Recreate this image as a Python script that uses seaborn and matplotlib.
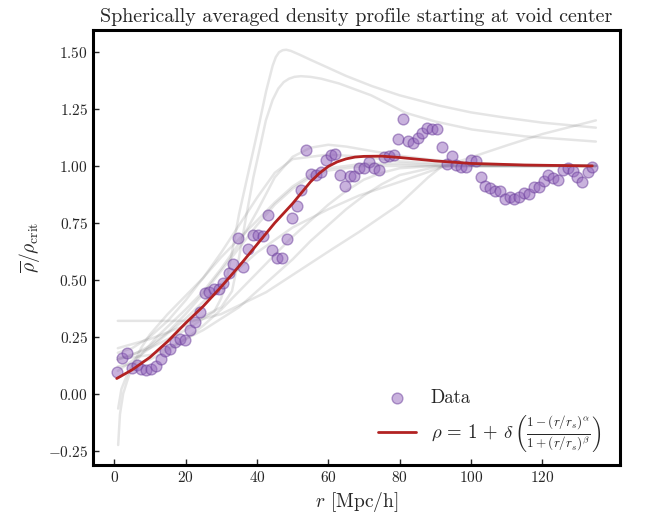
import matplotlib
matplotlib.use("Agg")
import matplotlib.pyplot as plt
import seaborn as sns
import numpy as np
import pandas as pd

# ---------------- data ----------------
r_data = [0.8, 2.2, 3.5, 4.9, 6.3, 7.6, 8.9, 10.3, 11.6, 13.0, 14.3, 15.7, 17.1, 18.4,
          19.7, 21.2, 22.5, 23.9, 25.3, 26.5, 27.9, 29.3, 30.6, 32.1, 33.4, 34.8, 36.1,
          37.6, 38.8, 40.2, 41.6, 43.0, 44.3, 45.6, 47.0, 48.3, 49.7, 51.1, 52.3, 53.8,
          55.2, 56.5, 57.9, 59.3, 60.7, 62.0, 63.3, 64.7, 66.0, 67.3, 68.6, 70.0, 71.4,
          72.8, 74.1, 75.5, 76.9, 78.3, 79.6, 81.0, 82.3, 83.7, 85.1, 86.4, 87.7, 89.2,
          90.6, 91.9, 93.2, 94.6, 95.9, 97.2, 98.5, 99.9, 101.3, 102.7, 103.9, 105.3,
          106.6, 108.0, 109.4, 110.8, 112.1, 113.5, 114.9, 116.3, 117.6, 119.0, 120.4,
          121.7, 123.0, 124.5, 125.7, 127.1, 128.5, 129.8, 131.2, 132.7, 134.0]
rho_data = [0.096, 0.158, 0.179, 0.115, 0.125, 0.107, 0.103, 0.109, 0.120, 0.151, 0.186,
            0.198, 0.227, 0.241, 0.238, 0.278, 0.315, 0.358, 0.443, 0.447, 0.460, 0.460,
            0.487, 0.529, 0.570, 0.682, 0.555, 0.634, 0.697, 0.697, 0.694, 0.786, 0.632,
            0.596, 0.596, 0.679, 0.771, 0.822, 0.896, 1.072, 0.965, 0.962, 0.975, 1.025,
            1.047, 1.054, 0.961, 0.910, 0.955, 0.954, 0.989, 0.990, 1.018, 0.990, 0.980,
            1.041, 1.042, 1.050, 1.117, 1.207, 1.111, 1.101, 1.121, 1.146, 1.166, 1.160,
            1.160, 1.082, 1.009, 1.044, 1.003, 0.997, 0.996, 1.025, 1.022, 0.952, 0.910,
            0.901, 0.891, 0.888, 0.856, 0.864, 0.853, 0.862, 0.881, 0.879, 0.907, 0.907,
            0.933, 0.962, 0.948, 0.940, 0.982, 0.993, 0.976, 0.950, 0.930, 0.974, 0.996]

# best-fit curve, values
r_fit = [0.7, 5, 10, 15, 20, 25, 30, 35, 40, 45, 50, 55, 57.5, 60, 62.5, 65, 67.5, 70,
         75, 80, 90, 100, 115, 134]
rho_fit = [0.067, 0.105, 0.16, 0.23, 0.31, 0.385, 0.47, 0.56, 0.655, 0.75, 0.835, 0.93,
           0.968, 0.998, 1.018, 1.031, 1.039, 1.042, 1.043, 1.037, 1.022, 1.011, 1.004, 1.0]

# individual gray profiles
g1_r = [1, 10, 20, 28, 30, 31.5, 33, 35, 37, 39, 40.7, 42.6, 44.4, 45.3, 46.2, 47.2,
        48.2, 49.5, 52, 55, 58.4, 65, 72.3, 80, 91, 100, 109.6, 120, 135]
g1_y = [0.15, 0.2, 0.28, 0.36, 0.42, 0.5, 0.62, 0.79, 0.93, 1.07, 1.19, 1.33, 1.44,
        1.478, 1.499, 1.508, 1.51, 1.505, 1.488, 1.466, 1.442, 1.395, 1.35, 1.31, 1.265,
        1.235, 1.212, 1.19, 1.168]
g2_r = [1, 10, 20, 30, 33, 35, 37, 39, 40.7, 42.5, 44.4, 46, 47.5, 49, 50.5, 52.3, 55,
        58, 63, 72, 81.7, 90, 100.3, 115, 135]
g2_y = [0.2, 0.24, 0.3, 0.38, 0.45, 0.6, 0.78, 0.95, 1.07, 1.2, 1.29, 1.34, 1.368,
        1.383, 1.391, 1.394, 1.391, 1.383, 1.362, 1.31, 1.233, 1.195, 1.16, 1.13, 1.107]
g3_r = [1, 10, 20, 30, 40, 50, 60, 68.6, 80, 92.8, 110, 120, 135]
g3_y = [0.1, 0.2, 0.33, 0.48, 0.62, 0.73, 0.81, 0.87, 0.93, 1.0, 1.09, 1.14, 1.2]
g4_r = [1.1, 1.6, 2.5, 3.5, 5, 7.5, 10, 15, 20, 25, 30, 35, 40, 45, 50, 55, 60, 70, 80,
        100, 135]
g4_y = [-0.225, -0.09, 0.0, 0.05, 0.12, 0.2, 0.26, 0.35, 0.43, 0.51, 0.6, 0.68, 0.76,
        0.84, 0.91, 0.96, 0.99, 1.01, 1.01, 1.0, 1.0]
g5_r = [1.1, 2, 3.5, 5, 8, 12, 16, 20, 25, 30, 35, 40, 45, 50, 55, 60, 65, 72, 80, 90,
        100, 115, 135]
g5_y = [-0.065, 0.02, 0.08, 0.12, 0.18, 0.25, 0.31, 0.37, 0.45, 0.55, 0.66, 0.8, 0.95,
        1.04, 1.08, 1.093, 1.085, 1.066, 1.045, 1.025, 1.012, 1.004, 1.0]
g6_r = [1, 5, 10, 15, 20, 25, 30, 35, 40, 45, 50, 55, 60, 70, 80, 100, 135]
g6_y = [0.15, 0.17, 0.21, 0.27, 0.35, 0.44, 0.54, 0.64, 0.74, 0.83, 0.9, 0.95, 0.98,
        1.0, 1.0, 1.0, 1.0]
g7_r = [1, 5, 10, 15, 20, 25, 30, 35, 40, 45, 50, 55, 60, 65, 70, 75, 80, 90, 100, 135]
g7_y = [0.12, 0.13, 0.15, 0.19, 0.24, 0.3, 0.37, 0.45, 0.53, 0.61, 0.69, 0.76, 0.83,
        0.89, 0.94, 0.97, 0.99, 1.0, 1.0, 1.0]
g8_r = [1, 5, 10, 15, 20, 25, 30, 35, 40, 45, 50, 55, 60, 65, 70, 75, 80, 90, 100, 135]
g8_y = [0.16, 0.16, 0.17, 0.2, 0.24, 0.28, 0.33, 0.38, 0.45, 0.52, 0.59, 0.67, 0.74,
        0.81, 0.87, 0.92, 0.96, 0.995, 1.0, 1.0]
g9_r = [1, 5, 10, 15, 20, 25, 30, 35, 40, 45, 50, 60, 70, 80, 100, 135]
g9_y = [0.18, 0.2, 0.25, 0.32, 0.41, 0.51, 0.62, 0.74, 0.86, 0.97, 1.03, 1.05, 1.04,
        1.02, 1.005, 1.0]
g10_r = [1, 20, 24, 30, 42.6, 61.2, 68.6, 79.8, 88, 92, 100, 135]
g10_y = [0.32, 0.32, 0.325, 0.35, 0.446, 0.636, 0.71, 0.83, 0.95, 1.0, 1.0, 1.0]

gray_curves = [(g1_r, g1_y), (g2_r, g2_y), (g3_r, g3_y), (g4_r, g4_y), (g5_r, g5_y),
               (g6_r, g6_y), (g7_r, g7_y), (g8_r, g8_y), (g9_r, g9_y), (g10_r, g10_y)]

title = "Spherically averaged density profile starting at void center"

# ---------------- style ----------------
sns.set_style("ticks")
plt.rcParams["font.family"] = "serif"
plt.rcParams["font.serif"] = ["cmr10", "DejaVu Serif"]
plt.rcParams["mathtext.fontset"] = "cm"
plt.rcParams["axes.formatter.use_mathtext"] = True
plt.rcParams["axes.unicode_minus"] = True

fig = plt.figure(figsize=(6.58, 5.17), dpi=100)
ax = fig.add_axes([0.141, 0.101, 0.801, 0.841])

for gr, gy in gray_curves:
    dfg = pd.DataFrame({"r": gr, "rho": gy})
    sns.lineplot(data=dfg, x="r", y="rho", ax=ax, color="gray", alpha=0.2, lw=1.8,
                 sort=False, estimator=None, legend=False)

df = pd.DataFrame({"r": r_data, "rho": rho_data})
sns.scatterplot(data=df, x="r", y="rho", ax=ax, color="tab:purple", alpha=0.5, s=60,
                edgecolor="#6a3d9a", linewidth=1, label="Data", zorder=3)

dff = pd.DataFrame({"r": r_fit, "rho": rho_fit})
sns.lineplot(data=dff, x="r", y="rho", ax=ax, color="firebrick", lw=2, sort=False,
             estimator=None, zorder=4,
             label=r"$\rho\,=\,1\,+\,\delta\,\left(\frac{1-(r/r_s)^\alpha}{1+(r/r_s)^\beta}\right)$")

ax.set_title(title, fontsize=14.4)
ax.set_xlabel(r"$r$ [Mpc/h]", fontsize=14)
ax.set_ylabel(r"$\overline{\rho}/\rho_{\rm crit}$", fontsize=14)
ax.set_xticks([0, 20, 40, 60, 80, 100, 120])
ax.set_yticks([-0.25, 0.0, 0.25, 0.5, 0.75, 1.0, 1.25, 1.5])
ax.tick_params(direction="in", length=4, width=1, labelsize=11)
for sp in ax.spines.values():
    sp.set_visible(True)
    sp.set_linewidth(2.2)
    sp.set_color("black")

ax.legend(loc="lower right", frameon=False, fontsize=13.5, borderaxespad=0.5,
          labelspacing=0.3, bbox_to_anchor=(0.996, -0.014))

fig.savefig("out.png", dpi=100)
